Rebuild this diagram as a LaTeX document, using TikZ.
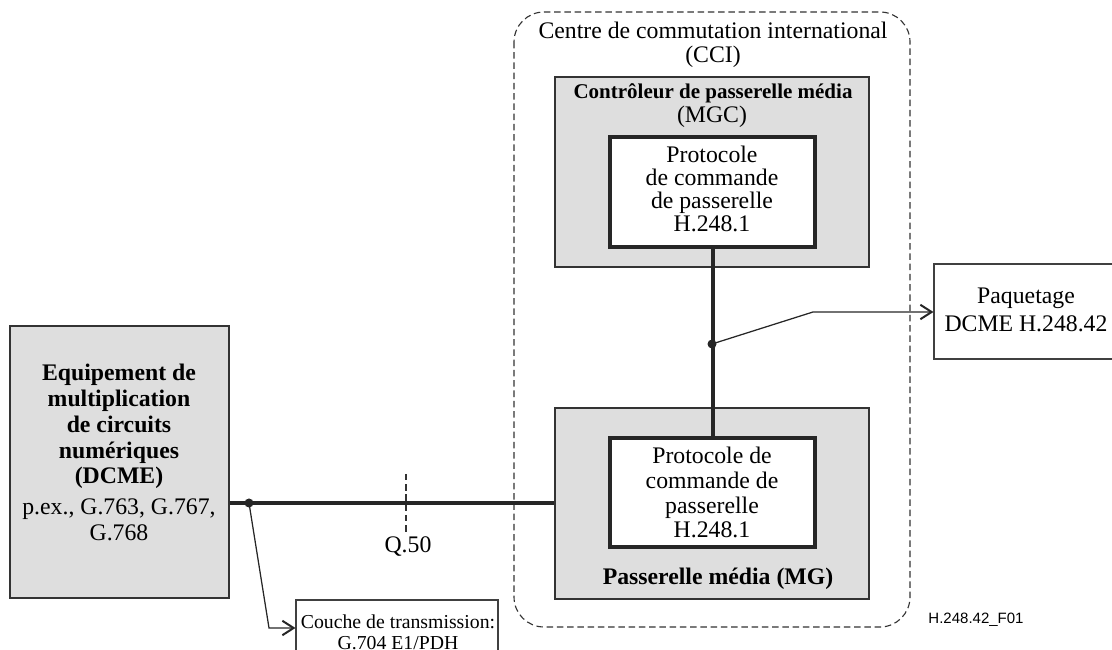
\documentclass[tikz,border=0pt]{standalone}
\usepackage{fontspec}
\setmainfont{Liberation Serif}
\setsansfont{Liberation Sans}
\usetikzlibrary{arrows.meta,fit}

\tikzset{
  cajagris/.style={draw=black!80, line width=0.45pt, fill=black!13, inner sep=0pt},
  cajaproto/.style={draw=black!85, line width=1.5pt, fill=white, inner sep=0pt},
  cajablanca/.style={draw=black!75, line width=0.45pt, fill=white, inner sep=0pt},
  texto/.style={inner sep=0pt, align=center, font=\fontsize{9.5}{9.6}\selectfont},
  grueso/.style={line width=1.6pt, black!85},
  fino/.style={line width=0.5pt, black!85},
  trazos/.style={black!80, line width=0.45pt, dash pattern=on 2.6pt off 1.5pt},
  flecha/.style={-{Straight Barb[length=4.5pt,width=5.8pt,line width=0.8pt]}},
  punto/.style={circle, fill=black!85, inner sep=0pt, minimum size=3.6pt},
}

\begin{document}
\begin{tikzpicture}[x=0.4pt, y=-0.4pt]

\useasboundingbox (0,0) rectangle (1112,650);

% Dibuja el centre de commutation
\draw[trazos, rounded corners=12pt] (514,12) rectangle (910,627);
\node[texto, anchor=north] (cci) at (713,22)
  {Centre de commutation international\\(CCI)};

% Dibuja el contrôleur (MGC)
\node[cajagris, fit={(555,77) (869,267)}] (mgc) {};
\node[texto, anchor=base, font=\fontsize{8.4}{9}\selectfont\bfseries] (mgctit) at (713,99)
  {Contrôleur de passerelle média};
\node[texto, anchor=base] (mgcsigla) at (712,123) {(MGC)};
\node[cajaproto, fit={(610,137) (815,247)}] (mgcproto) {};
\node[texto, anchor=north, font=\fontsize{9.5}{9.1}\selectfont] (mgcprototxt) at (712,146)
  {Protocole\\de commande\\de passerelle\\H.248.1};

% Dibuja la passerelle (MG)
\node[cajagris, fit={(555,408) (869,599)}] (mg) {};
\node[cajaproto, fit={(610,438) (815,547)}] (mgproto) {};
\node[texto, anchor=north, font=\fontsize{9.5}{9.85}\selectfont] (mgprototxt) at (712,447)
  {Protocole de\\commande de\\passerelle\\H.248.1};
\node[texto, anchor=base, font=\fontsize{9.5}{9.6}\selectfont\bfseries] (mgtit) at (718,585)
  {Passerelle média (MG)};

% Dibuja el DCME
\node[cajagris, fit={(10,326) (229,598)}] (dcme) {};
\node[texto, anchor=north, font=\fontsize{9.5}{10.3}\selectfont] (dcmetxt) at (119,364)
  {\textbf{Equipement de}\\\textbf{multiplication}\\\textbf{de circuits}\\\textbf{numériques}\\\textbf{(DCME)}\\[2.1pt]
   p.ex., G.763, G.767,\\G.768};

% Cajas de la derecha y de abajo
\node[cajablanca, fit={(934,264) (1114,359)}] (paq) {};
\node[texto, anchor=north, font=\fontsize{9.5}{11.2}\selectfont] (paqtxt) at (1026,287)
  {Paquetage\\DCME H.248.42};
\node[cajablanca, fit={(296,600) (498,662)}] (couche) {};
\node[texto, anchor=north, font=\fontsize{7.9}{8.4}\selectfont] (couchetxt) at (398,614)
  {Couche de transmission:\\G.704 E1/PDH};

% Conexiones
\draw[grueso] (mgcproto.south) -- (mgproto.north);
\draw[grueso] (dcme.east |- mg.west) -- (mg.west);

\node[punto] (nudo1) at (712,344) {};
\coordinate (codo1) at (813,312);
\draw[fino, flecha] (nudo1.center) -- (codo1) -- (codo1 -| paq.west);

\node[punto] (nudo2) at (249,503) {};
\coordinate (codo2) at (269,628);
\draw[fino, flecha] (nudo2.center) -- (codo2) -- (codo2 -| couche.west);

% Etiqueta Q.50
\draw[trazos] (406,474) -- (406,532);
\node[texto, anchor=base] (q50) at (408,553) {Q.50};

% Referencia de la figura
\node[inner sep=0pt, anchor=base, font=\sffamily\fontsize{6}{6}\selectfont] (ref) at (976,624)
  {H.248.42\_F01};

\end{tikzpicture}
\end{document}
